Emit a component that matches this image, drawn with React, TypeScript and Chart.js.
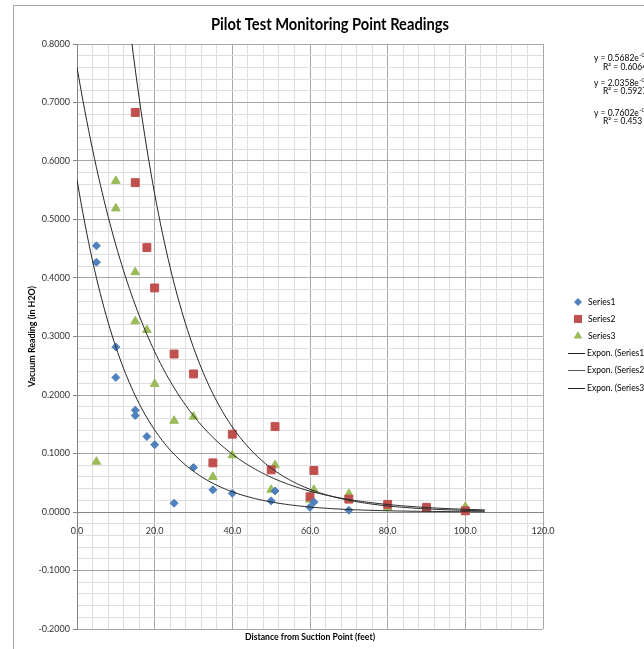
import React, { useEffect, useRef } from "react";
import { Chart, registerables } from "chart.js";

Chart.register(...registerables);

const TITLE = "Pilot Test Monitoring Point Readings";
const X_TITLE = "Distance from Suction Point (feet)";
const Y_TITLE = "Vacuum Reading (in H2O)";

const SERIES_NAMES = ["Series1", "Series2", "Series3"];
const SERIES_COLORS = ["#4F81BD", "#C0504D", "#9BBB59"];

const S1_X = [5, 5, 10, 10, 15, 15, 18, 20, 25, 30, 35, 40, 50, 51, 60, 61, 70];
const S1_Y = [0.455, 0.427, 0.282, 0.23, 0.174, 0.165, 0.129, 0.115, 0.015, 0.076, 0.038, 0.032, 0.019, 0.036, 0.008, 0.017, 0.003];

const S2_X = [15, 15, 18, 20, 25, 30, 35, 40, 50, 51, 60, 61, 70, 80, 90, 100];
const S2_Y = [0.683, 0.563, 0.452, 0.383, 0.27, 0.236, 0.084, 0.133, 0.072, 0.146, 0.026, 0.071, 0.022, 0.013, 0.008, 0.002];

const S3_X = [5, 10, 10, 15, 15, 18, 20, 25, 30, 35, 40, 50, 51, 60, 61, 70, 80, 90, 100];
const S3_Y = [0.086, 0.566, 0.519, 0.41, 0.326, 0.311, 0.219, 0.156, 0.163, 0.06, 0.097, 0.038, 0.08, 0.021, 0.038, 0.031, 0.007, 0.007, 0.009];

// Exponential trendlines y = a * e^(-b x)
const TREND_A = [0.5682, 2.0358, 0.7602];
const TREND_B = [0.07, 0.066, 0.051];
const TREND_B_TEXT = ["-0.070x", "-0.066x", "-0.051x"];
const TREND_R2 = ["0.6064", "0.5927", "0.453"];
const TREND_X_END = 105;
const TREND_NAMES = ["Expon. (Series1)", "Expon. (Series2)", "Expon. (Series3)"];

const X_MIN = 0;
const X_MAX = 120;
const X_MAJOR = 20;
const X_MINOR = 4;
const Y_MIN = -0.2;
const Y_MAX = 0.8;
const Y_MINOR = 0.02;

const FONT = "Lato, 'Open Sans', sans-serif";
const MAJOR_GRID = "#a8a8a8";
const MINOR_GRID = "#dedede";
const AXIS_LINE = "#868686";
const TEXT = "#333333";

const isMajorY = (v: number) => Math.round(v * 50) % 5 === 0;
const isMajorX = (v: number) => Math.round(v) % X_MAJOR === 0;

function trendPoints(i: number) {
  const pts: { x: number; y: number }[] = [];
  for (let x = 0; x <= TREND_X_END; x += 0.5) {
    pts.push({ x, y: TREND_A[i] * Math.exp(-TREND_B[i] * x) });
  }
  return pts;
}

function zip(xs: number[], ys: number[]) {
  return xs.map((x, i) => ({ x, y: ys[i] }));
}

function drawMarker(c: CanvasRenderingContext2D, kind: number, x: number, y: number) {
  c.fillStyle = SERIES_COLORS[kind];
  c.beginPath();
  if (kind === 0) {
    const r = 4;
    c.moveTo(x - r, y);
    c.lineTo(x, y - r);
    c.lineTo(x + r, y);
    c.lineTo(x, y + r);
  } else if (kind === 1) {
    c.rect(x - 4, y - 4, 8, 8);
  } else {
    const r = 5;
    c.moveTo(x, y - r);
    c.lineTo(x + r * 0.866, y + r * 0.5);
    c.lineTo(x - r * 0.866, y + r * 0.5);
  }
  c.closePath();
  c.fill();
}

const overlay = {
  id: "overlay",
  beforeDraw(chart: any) {
    const c = chart.ctx;
    c.save();
    c.fillStyle = "#ffffff";
    c.fillRect(0, 0, chart.width, chart.height);
    c.restore();
  },
  afterDraw(chart: any) {
    const c: CanvasRenderingContext2D = chart.ctx;
    const a = chart.chartArea;
    c.save();
    // outer chart border
    c.strokeStyle = "#a6a6a6";
    c.lineWidth = 1;
    c.beginPath();
    c.moveTo(13.5, chart.height);
    c.lineTo(13.5, 5.5);
    c.lineTo(chart.width, 5.5);
    c.stroke();

    // title
    c.fillStyle = "#000";
    c.textAlign = "center";
    c.textBaseline = "middle";
    c.font = `bold 17px ${FONT}`;
    c.fillText(TITLE, 330, 25, 238);

    // axis titles
    c.font = `bold 9px ${FONT}`;
    c.fillText(X_TITLE, (a.left + a.right) / 2, 637, 130);
    c.save();
    c.translate(32, (a.top + a.bottom) / 2);
    c.rotate(-Math.PI / 2);
    c.fillText(Y_TITLE, 0, 0, 101);
    c.restore();

    // trendline equations
    const eqY = [58, 83, 113];
    const r2Y = [67, 91, 121];
    c.textAlign = "left";
    c.fillStyle = "#000";
    for (let i = 0; i < 3; i++) {
      c.font = `8.5px ${FONT}`;
      const base = `y = ${TREND_A[i].toFixed(4)}e`;
      c.fillText(base, 594, eqY[i]);
      const w = c.measureText(base).width;
      c.font = `6px ${FONT}`;
      c.fillText(TREND_B_TEXT[i], 594 + w + 0.5, eqY[i] - 3);
      c.font = `8.5px ${FONT}`;
      c.fillText(`R\u00B2 = ${TREND_R2[i]}`, 603, r2Y[i]);
    }

    // legend
    const ly = [302, 319, 336, 353, 370, 388];
    c.font = `8.5px ${FONT}`;
    for (let i = 0; i < 3; i++) {
      drawMarker(c, i, 578, ly[i]);
      c.fillStyle = "#000";
      c.fillText(SERIES_NAMES[i], 588, ly[i]);
    }
    for (let i = 0; i < 3; i++) {
      c.strokeStyle = i === 1 ? "#555" : "#222";
      c.lineWidth = 1;
      c.beginPath();
      c.moveTo(568, ly[3 + i] + 0.5);
      c.lineTo(585, ly[3 + i] + 0.5);
      c.stroke();
      c.fillStyle = "#000";
      c.fillText(TREND_NAMES[i], 587, ly[3 + i]);
    }
    c.restore();
  },
};

export default function App() {
  const ref = useRef<HTMLCanvasElement | null>(null);

  useEffect(() => {
    if (!ref.current) return;
    const pointStyles = ["rectRot", "rect", "triangle"];
    const pointRadii = [4, 5.6, 5];
    const seriesData = [zip(S1_X, S1_Y), zip(S2_X, S2_Y), zip(S3_X, S3_Y)];
    const datasets: any[] = [];
    for (let i = 0; i < 3; i++) {
      datasets.push({
        label: TREND_NAMES[i],
        data: trendPoints(i),
        showLine: true,
        borderColor: "#262626",
        borderWidth: 1,
        pointRadius: 0,
        fill: false,
        tension: 0,
        xAxisID: "x",
        yAxisID: "y",
        order: 0,
      });
    }
    for (let i = 0; i < 3; i++) {
      datasets.push({
        label: SERIES_NAMES[i],
        data: seriesData[i],
        showLine: false,
        pointStyle: pointStyles[i],
        pointRadius: pointRadii[i],
        backgroundColor: SERIES_COLORS[i],
        borderColor: SERIES_COLORS[i],
        borderWidth: 1,
        xAxisID: "x",
        yAxisID: "y",
        order: 1,
      });
    }

    const chart = new Chart(ref.current, {
      type: "scatter",
      data: { datasets },
      plugins: [overlay],
      options: {
        animation: false,
        responsive: false,
        maintainAspectRatio: false,
        layout: { padding: { left: 24, right: 101, top: 44, bottom: 0 } },
        plugins: {
          legend: { display: false },
          title: { display: false },
          tooltip: { enabled: false },
        },
        scales: {
          x: {
            type: "linear",
            min: X_MIN,
            max: X_MAX,
            ticks: { display: false, stepSize: X_MINOR, autoSkip: false },
            grid: {
              color: (ctx: any) => (isMajorX(ctx.tick.value) ? MAJOR_GRID : MINOR_GRID),
              drawTicks: false,
            },
            border: { display: false },
            afterFit: (s: any) => {
              s.height = 20;
            },
          },
          x2: {
            type: "linear",
            axis: "x",
            position: { y: 0 },
            min: X_MIN,
            max: X_MAX,
            ticks: {
              stepSize: X_MAJOR,
              autoSkip: false,
              maxRotation: 0,
              padding: 2,
              color: TEXT,
              font: { family: FONT, size: 9 },
              callback: (v: any) => Number(v).toFixed(1),
            },
            grid: { display: false, tickLength: 12 },
            border: { display: true, color: AXIS_LINE },
          },
          y: {
            type: "linear",
            min: Y_MIN,
            max: Y_MAX,
            ticks: {
              stepSize: Y_MINOR,
              autoSkip: false,
              padding: 3,
              color: TEXT,
              font: { family: FONT, size: 9 },
              callback: (v: any) => (isMajorY(Number(v)) ? Number(v).toFixed(4) : ""),
            },
            grid: {
              color: (ctx: any) => (isMajorY(ctx.tick.value) ? MAJOR_GRID : MINOR_GRID),
              tickColor: (ctx: any) => (isMajorY(ctx.tick.value) ? AXIS_LINE : "rgba(0,0,0,0)"),
              tickLength: 4,
            },
            border: { display: true, color: AXIS_LINE },
            afterFit: (s: any) => {
              s.width = 53;
            },
          },
        },
      } as any,
    });
    return () => chart.destroy();
  }, []);

  return (
    <div style={{ position: "absolute", left: 0, top: 0, width: 644, height: 649 }}>
      <canvas ref={ref} width={644} height={649} style={{ width: 644, height: 649, display: "block" }} />
    </div>
  );
}
